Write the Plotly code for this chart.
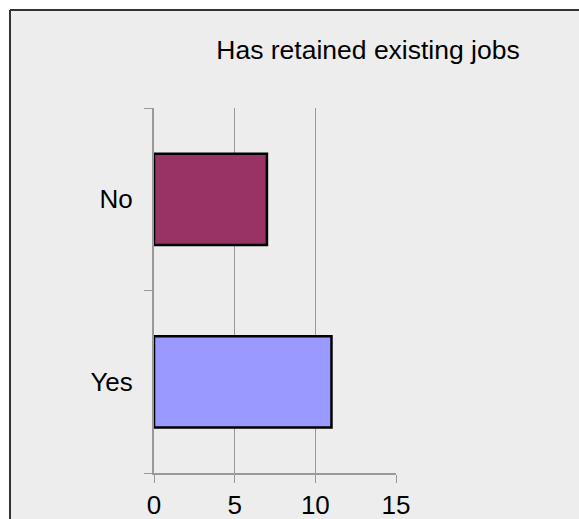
import plotly.graph_objects as go

categories = ["Yes", "No"]
counts = [11, 7]
bar_colors = ["#9999FF", "#993366"]
x_ticks = [0, 5, 10, 15]
title_text = "Has retained existing jobs"

W, H = 579, 519
L, R, T, B = 154, 396, 108, 473
pw, ph = R - L, B - T

fig = go.Figure(
    go.Bar(
        y=categories,
        x=counts,
        orientation="h",
        width=0.5,
        marker=dict(color=bar_colors, line=dict(color="black", width=2.5)),
        hoverinfo="x+y",
    )
)

def px2paper_x(p):
    return (p - L) / pw

def px2paper_y(p):
    return (B - p) / ph

# chart background panel (no outline), then top and left border lines only
fig.add_shape(
    type="rect", xref="paper", yref="paper",
    x0=px2paper_x(10), x1=px2paper_x(700),
    y0=px2paper_y(700), y1=px2paper_y(10),
    line=dict(width=0),
    fillcolor="#EDEDED", layer="below",
)
fig.add_shape(
    type="line", xref="paper", yref="paper",
    x0=px2paper_x(10), x1=px2paper_x(700),
    y0=px2paper_y(10), y1=px2paper_y(10),
    line=dict(color="#333333", width=2), layer="below",
)
fig.add_shape(
    type="line", xref="paper", yref="paper",
    x0=px2paper_x(10), x1=px2paper_x(10),
    y0=px2paper_y(10), y1=px2paper_y(700),
    line=dict(color="#333333", width=2), layer="below",
)

fig.update_layout(
    width=W, height=H,
    margin=dict(l=L, r=W - R, t=T, b=H - B, pad=0, autoexpand=False),
    paper_bgcolor="white",
    plot_bgcolor="rgba(0,0,0,0)",
    showlegend=False,
    font=dict(family="Arial, Liberation Sans, sans-serif", size=26, color="black"),
    title=dict(
        text=title_text, xref="container", yref="container",
        x=368 / W, y=1 - 50 / H, xanchor="center", yanchor="middle",
        font=dict(size=26.5, color="black"),
    ),
    bargap=0.5,
)

fig.update_xaxes(
    range=[0, 15], tickvals=x_ticks, ticktext=[str(v) for v in x_ticks],
    showgrid=True, gridcolor="#999999", gridwidth=1,
    showline=True, linecolor="#999999", linewidth=2,
    ticks="outside", ticklen=8, tickcolor="#999999", tickwidth=1,
    zeroline=False, fixedrange=True, automargin=False,
)
fig.update_yaxes(
    type="category", categoryorder="array", categoryarray=categories,
    showgrid=False,
    showline=True, linecolor="#999999", linewidth=2,
    ticks="outside", tickson="boundaries", ticklen=8, tickcolor="#999999", tickwidth=1,
    ticklabelstandoff=14,
    fixedrange=True, automargin=False,
)

# remove the default page margin so the figure fills the window exactly
page_css = (
    "document.body.style.margin='0';"
    "document.body.style.overflow='hidden';"
    "document.documentElement.style.overflow='hidden';"
)

fig.write_html("out.html", post_script=page_css, config={"displayModeBar": False})
